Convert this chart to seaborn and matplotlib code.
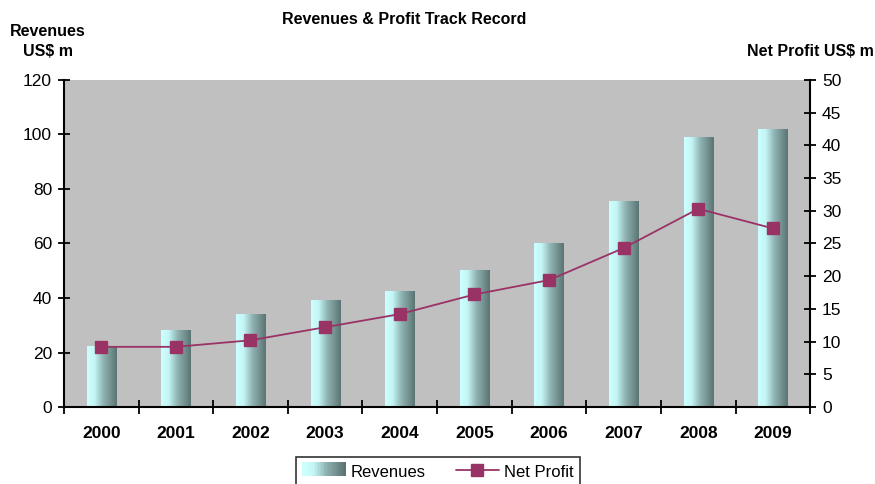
import numpy as np
import pandas as pd
import matplotlib
matplotlib.use("Agg")
import matplotlib.pyplot as plt
import seaborn as sns
from matplotlib.colors import LinearSegmentedColormap
from matplotlib.legend_handler import HandlerBase
from matplotlib.patches import Rectangle
from matplotlib.lines import Line2D

# ==========================================
# Data
# ==========================================

years = ["2000", "2001", "2002", "2003", "2004", "2005", "2006", "2007", "2008", "2009"]
revenues = [22.4, 28.3, 34.1, 39.3, 42.6, 50.3, 60.2, 75.6, 99.1, 102.0]
net_profit = [9.2, 9.2, 10.2, 12.2, 14.2, 17.2, 19.4, 24.3, 30.3, 27.3]

rev_ticks = [0, 20, 40, 60, 80, 100, 120]
profit_ticks = [0, 5, 10, 15, 20, 25, 30, 35, 40, 45, 50]

df = pd.DataFrame({"Year": years, "Revenues": revenues, "Net Profit": net_profit})

# ==========================================
# Style
# ==========================================

sns.set_style("white")
plt.rcParams["font.family"] = ["Liberation Sans", "DejaVu Sans"]
plt.rcParams["text.color"] = "black"
plt.rcParams["xtick.color"] = "black"
plt.rcParams["ytick.color"] = "black"
plt.rcParams["axes.labelcolor"] = "black"

bar_cmap = LinearSegmentedColormap.from_list(
    "cyl", [(0.0, "#ccffff"), (0.25, "#c4f6f6"), (0.55, "#8fb3b2"), (1.0, "#5a7472")]
)
plum = "#993366"

fig = plt.figure(figsize=(8.75, 4.84), dpi=100)
ax = fig.add_axes([0.073, 0.159, 0.853, 0.676])
ax.set_facecolor("#c0c0c0")

# ==========================================
# Bars (revenues) with gradient fill
# ==========================================

sns.barplot(data=df, x="Year", y="Revenues", ax=ax, width=0.39, color="#ccffff",
            linewidth=0, saturation=1)

grad = np.linspace(0, 1, 256).reshape(1, -1)
for patch in ax.patches:
    x0, y0 = patch.get_x(), patch.get_y()
    w, h = patch.get_width(), patch.get_height()
    im = ax.imshow(grad, extent=[x0, x0 + w, y0, y0 + h], aspect="auto",
                   cmap=bar_cmap, zorder=2)
    im.set_clip_path(patch)
    patch.set_facecolor("none")

ax.set_xlim(-0.5, 9.5)
ax.set_ylim(0, 120)
ax.set_yticks(rev_ticks)
ax.set_xlabel("")
ax.set_ylabel("")

# ==========================================
# Line (net profit) on right axis
# ==========================================

ax2 = ax.twinx()
sns.pointplot(data=df, x="Year", y="Net Profit", ax=ax2, color=plum, markers="s",
              markersize=8, linewidth=1.3, linestyles="-")
ax2.set_xlim(-0.5, 9.5)
ax2.set_ylim(0, 50)
ax2.set_yticks(profit_ticks)
ax2.set_ylabel("")
ax2.set_xlabel("")

# ==========================================
# Axes, ticks, spines
# ==========================================

for a in (ax, ax2):
    for s in a.spines.values():
        s.set_visible(False)
ax.spines["left"].set_visible(True)
ax.spines["bottom"].set_visible(True)
ax2.spines["right"].set_visible(True)
for s in (ax.spines["left"], ax.spines["bottom"], ax2.spines["right"]):
    s.set_color("black")
    s.set_linewidth(1.5)

ax.tick_params(axis="y", direction="inout", length=9, width=1.3, labelsize=12.5,
               left=True, pad=4, colors="black")
ax2.tick_params(axis="y", direction="inout", length=9, width=1.3, labelsize=12.5,
                right=True, pad=4, colors="black")
ax.set_xticks(range(len(years)))
ax.set_xticklabels(years, fontweight="bold", fontsize=12.5)
ax.tick_params(axis="x", length=0, pad=14, colors="black")
ax.set_xticks(np.arange(-0.5, 10, 1), minor=True)
ax.tick_params(axis="x", which="minor", direction="inout", length=10, width=1.3,
               bottom=True, colors="black")

# ==========================================
# Titles
# ==========================================

fig.text(404 / 875, 1 - 19 / 484, "Revenues & Profit Track Record",
         ha="center", va="center", fontsize=11.5, fontweight="bold")
fig.text(48 / 875, 1 - 32 / 484, "Revenues", ha="center", va="center",
         fontsize=11.5, fontweight="bold")
fig.text(48 / 875, 1 - 52 / 484, "US$ m", ha="center", va="center",
         fontsize=11.5, fontweight="bold")
fig.text(810 / 875, 1 - 52 / 484, "Net Profit US$ m", ha="center", va="center",
         fontsize=11.5, fontweight="bold")

# ==========================================
# Legend
# ==========================================

class GradientHandler(HandlerBase):
    def create_artists(self, legend, orig_handle, xdescent, ydescent, width,
                       height, fontsize, trans):
        n = 30
        arts = []
        for i in range(n):
            r = Rectangle((xdescent + i * width / n, ydescent), width / n + 0.3,
                          height, facecolor=bar_cmap(i / (n - 1)), edgecolor="none",
                          transform=trans)
            arts.append(r)
        return arts

rev_handle = Rectangle((0, 0), 1, 1)
profit_handle = Line2D([], [], color=plum, marker="s", markersize=8, linewidth=1.3)

leg = fig.legend([rev_handle, profit_handle], ["Revenues", "Net Profit"],
                 handler_map={Rectangle: GradientHandler()},
                 loc="upper center", bbox_to_anchor=(438 / 875, 1 - 449 / 484),
                 ncol=2, fontsize=12, frameon=True, fancybox=False,
                 edgecolor="black", handlelength=2.6, handleheight=0.9,
                 handletextpad=0.3, columnspacing=1.8, borderpad=0.4)
leg.get_frame().set_linewidth(1.2)

plt.savefig("out.png", dpi=100)
